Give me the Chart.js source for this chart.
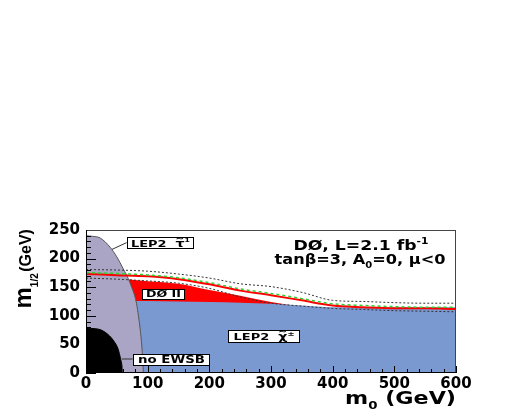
<!DOCTYPE html>
<html><head><meta charset="utf-8">
<script src="https://cdn.jsdelivr.net/npm/chart.js@4/dist/chart.umd.min.js"></script>
<style>html,body{margin:0;padding:0;background:#fff;}canvas{display:block}</style>
</head><body>
<canvas id="c" width="518" height="409"></canvas>
<script>
// ---- data ----
const m0Grid = [0,50,100,150,200,250,300,350,400,450,500,550,600];
const lep2CharginoTop = [126,126,126,125,124,123,121,118,115,115,115,115,115];
const d0ExcludedTop = [166,165,160.5,156,145,135,124,116];
const observedLimit = [173,171,169,164,155,144,136,127,118,115,113,113,112];
const expectedLimit = [175.5,174,171.5,166.5,158,147,139,130,121,118,116,115,115];
const expectedPlus = [181,180,178,173,166,156,151,141,127,125,123,122,122];
const expectedMinus = [166,164,161,157,148,133,122,117,113,111,109,108,107];
const stauM0 = [0,10,23,39,50,60.5,68.6,74,79,82,85,88,91,93];
const stauM12 = [240,239,236,220,203,182,165,150,135,121,100,75,40,0];
const ewsbM0 = [0,15,25,35,45,52,56,58.5,59];
const ewsbM12 = [78,77.5,75,68,56,42,25,10,0];
const xTickStep = 100, yTickStep = 50;

const PURPLE = 'rgb(170,165,197)', BLUE = 'rgb(122,153,208)', RED = 'rgb(255,0,0)';
const FONT = '"DejaVu Sans"';

const pts = (xs, ys) => ys.map((v, i) => ({x: xs[i], y: v}));
const common = {showLine: true, pointRadius: 0, pointHoverRadius: 0, cubicInterpolationMode: 'monotone'};

function rich(ctx, segs, x, y, size, opts) {
  // segs: [text, relSize, dyEm, zeroAdvance]
  opts = opts || {};
  const fam = opts.family || FONT;
  ctx.save();
  let w = 0;
  const widths = segs.map(s => { ctx.font = `bold ${size * s[1]}px ${fam}`; const m = s[3] ? 0 : ctx.measureText(s[0]).width; w += m; return m; });
  const sx = opts.width ? opts.width / w : (opts.sx || 1);
  const tw = w * sx;
  let start = opts.align === 'center' ? -tw / 2 : opts.align === 'right' ? -tw : 0;
  ctx.translate(x + start, y);
  ctx.scale(sx, 1);
  ctx.fillStyle = opts.color || '#000';
  ctx.textAlign = 'left'; ctx.textBaseline = 'alphabetic';
  let cx = 0;
  segs.forEach((s, i) => { ctx.font = `bold ${size * s[1]}px ${fam}`; ctx.fillText(s[0], cx, (s[2] || 0) * size); cx += widths[i]; });
  ctx.restore();
  return tw;
}

const overlay = {
  id: 'overlay',
  afterDatasetsDraw(chart) {
    const {ctx, chartArea: a, scales: {x, y}} = chart;
    const X = v => x.getPixelForValue(v), Y = v => y.getPixelForValue(v);
    ctx.save();
    ctx.lineWidth = 1; ctx.strokeStyle = '#000';
    const line = (x1, y1, x2, y2) => { ctx.beginPath(); ctx.moveTo(x1, y1); ctx.lineTo(x2, y2); ctx.stroke(); };
    // inward ticks
    for (let v = 0; v <= 600; v += 20) { const px = Math.round(X(v)) + 0.5; line(px, a.bottom, px, a.bottom - (v % 100 === 0 ? 7 : 4)); }
    for (let v = 0; v <= 250; v += 10) { const py = Math.round(Y(v)) + 0.5; line(a.left, py, a.left + (v % 50 === 0 ? 10 : 5), py); }
    // frame
    ctx.strokeStyle = '#444';
    line(a.left, a.top + 0.5, a.right, a.top + 0.5);
    line(a.right - 0.5, a.top, a.right - 0.5, a.bottom);
    ctx.strokeStyle = '#000';
    line(a.left + 0.5, a.top, a.left + 0.5, a.bottom);
    line(a.left, a.bottom - 0.5, a.right, a.bottom - 0.5);

    // boxes
    const box = (m0a, m12a, m0b, m12b) => {
      const x1 = Math.round(X(m0a)) + 0.5, y1 = Math.round(Y(m12a)) + 0.5, x2 = Math.round(X(m0b)) + 0.5, y2 = Math.round(Y(m12b)) + 0.5;
      ctx.fillStyle = '#fff'; ctx.fillRect(x1, y1, x2 - x1, y2 - y1);
      ctx.strokeStyle = '#000'; ctx.strokeRect(x1, y1, x2 - x1, y2 - y1);
      return {x1, y1, x2, y2};
    };
    // LEP2 stau
    ctx.strokeStyle = '#333';
    line(X(42), Y(216), X(66), Y(228));
    let b = box(66, 237.6, 173, 219);
    rich(ctx, [['LEP2  ', 1, 0], ['~', 0.8, -0.62, true], ['τ', 1.1, 0], ['1', 0.6, -0.45]], (b.x1 + b.x2) / 2, b.y2 - 2, 9.5, {align: 'center', width: 59});
    // D0 II
    b = box(90, 146.3, 159, 128.8);
    rich(ctx, [['DØ II', 1, 0]], (b.x1 + b.x2) / 2, b.y2 - 2.5, 9, {align: 'center', width: 35});
    // LEP2 chargino
    b = box(230.7, 74.6, 344.8, 54);
    rich(ctx, [['LEP2  ', 1, 0], ['~', 0.8, -0.62, true], ['χ', 1.1, 0], ['±', 0.65, -0.45]], (b.x1 + b.x2) / 2, b.y2 - 2.5, 9.5, {align: 'center', width: 61});
    // no EWSB
    ctx.strokeStyle = '#333';
    line(X(57.8), Y(24.5), X(75.7), Y(24.5));
    b = box(75.7, 34, 199.8, 14.7);
    rich(ctx, [['no EWSB', 1, 0]], (b.x1 + b.x2) / 2, b.y2 - 2.5, 10.5, {align: 'center', width: 67});

    // header
    rich(ctx, [['DØ, L=2.1 fb', 1, 0], ['-1', 0.62, -0.45]], 361, 250, 14, {align: 'center', width: 135});
    rich(ctx, [['tanβ=3, A', 1, 0], ['0', 0.62, 0.3], ['=0, μ<0', 1, 0]], 360, 264, 14, {align: 'center', width: 171});

    // x title
    rich(ctx, [['m', 1, 0], ['0', 0.6, 0.28], [' (GeV)', 1, 0]], 456, 403.5, 18, {align: 'right', width: 111});

    // y title (rotated)
    ctx.save();
    ctx.translate(31, 308.5);
    ctx.rotate(-Math.PI / 2);
    ctx.fillStyle = '#000'; ctx.textBaseline = 'alphabetic'; ctx.textAlign = 'left';
    const yf = '"Liberation Sans"';
    ctx.font = `bold 24px ${yf}`; ctx.fillText('m', 0, 0); let cx = ctx.measureText('m').width;
    ctx.font = `bold 10px ${yf}`; ctx.fillText('1/2', cx, 7); cx += ctx.measureText('1/2').width + 1.5;
    ctx.font = `bold 16px ${yf}`; ctx.fillText('(GeV)', cx, 0);
    ctx.restore();
    ctx.restore();
  }
};

new Chart(document.getElementById('c'), {
  type: 'scatter',
  data: {
    datasets: [
      {...common, label: 'DØ II excluded', data: pts(m0Grid, d0ExcludedTop), backgroundColor: RED, borderColor: RED, borderWidth: 0, fill: 'origin', order: 11},
      {...common, label: 'LEP2 chargino', data: pts(m0Grid, lep2CharginoTop), backgroundColor: BLUE, borderColor: BLUE, borderWidth: 0, fill: 'origin', order: 10},
      {...common, label: 'LEP2 stau', data: pts(stauM0, stauM12), backgroundColor: PURPLE, borderColor: '#555', borderWidth: 1, fill: 'origin', order: 8},
      {...common, label: 'no EWSB', data: pts(ewsbM0, ewsbM12), backgroundColor: '#000', borderColor: '#000', borderWidth: 1, fill: 'origin', order: 7},
      {...common, label: 'expected -1σ', data: pts(m0Grid, expectedMinus), borderColor: '#333', borderDash: [2, 2], borderWidth: 1, fill: false, order: 6},
      {...common, label: 'expected +1σ', data: pts(m0Grid, expectedPlus), borderColor: '#333', borderDash: [2, 2], borderWidth: 1, fill: false, order: 5},
      {...common, label: 'observed', data: pts(m0Grid, observedLimit), borderColor: RED, borderWidth: 2, fill: false, order: 4},
      {...common, label: 'expected', data: pts(m0Grid, expectedLimit), borderColor: '#33cc33', borderDash: [3, 3], borderWidth: 1.5, fill: false, order: 3}
    ]
  },
  options: {
    responsive: false, animation: false, devicePixelRatio: 1,
    layout: {padding: {top: 230, right: 62, left: 0, bottom: 0}},
    plugins: {legend: {display: false}, tooltip: {enabled: false}, title: {display: false}},
    scales: {
      x: {type: 'linear', min: 0, max: 600,
        ticks: {stepSize: xTickStep, color: '#000', padding: 2, maxRotation: 0, autoSkip: false, font: {family: FONT, weight: 'bold', size: 15}},
        grid: {display: false, drawTicks: false}, border: {display: false},
        afterFit(s) { s.height = 36; }},
      y: {type: 'linear', min: 0, max: 250,
        ticks: {stepSize: yTickStep, color: '#000', padding: 6, autoSkip: false, font: {family: FONT, weight: 'bold', size: 15}},
        grid: {display: false, drawTicks: false}, border: {display: false},
        afterFit(s) { s.width = 86; }}
    }
  },
  plugins: [overlay]
});
</script>
</body></html>
